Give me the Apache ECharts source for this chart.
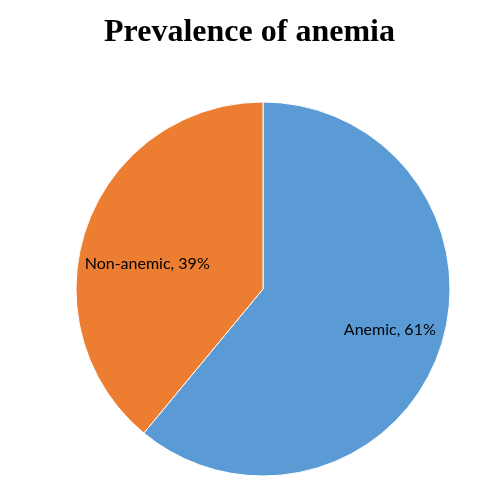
<!DOCTYPE html>
<html>
<head>
<meta charset="utf-8">
<style>
  html, body { margin: 0; padding: 0; background: #fff; }
  #main { width: 499px; height: 503px; }
</style>
<script src="https://cdn.jsdelivr.net/npm/echarts@6/dist/echarts.min.js"></script>
</head>
<body>
<div id="main"></div>
<script>
var categories = ['Anemic', 'Non-anemic'];
var values = [61, 39];
var colors = ['#5B9BD5', '#ED7D31'];
// nudges to mimic Excel's label placement
var labelOffsets = [[36, 8], [-25, 8]];

var chart = echarts.init(document.getElementById('main'), null, { renderer: 'canvas' });

var pieData = categories.map(function (name, i) {
  return {
    name: name,
    value: values[i],
    itemStyle: { color: colors[i] },
    label: { offset: labelOffsets[i] }
  };
});

var option = {
  animation: false,
  title: {
    text: 'Prevalence of anemia',
    left: 'center',
    top: 12,
    textStyle: {
      fontFamily: 'Liberation Serif',
      fontWeight: 'bold',
      fontSize: 32,
      color: '#000'
    }
  },
  series: [{
    type: 'pie',
    center: [263, 289],
    radius: [0, 187],
    startAngle: 90,
    clockwise: true,
    avoidLabelOverlap: false,
    itemStyle: { borderColor: '#fff', borderWidth: 1 },
    label: {
      show: true,
      position: 'inside',
      formatter: function (p) { return p.name + ', ' + p.value + '%'; },
      fontFamily: 'Lato',
      fontSize: 16,
      color: '#000'
    },
    labelLine: { show: false },
    data: pieData
  }]
};

chart.setOption(option);
</script>
</body>
</html>
